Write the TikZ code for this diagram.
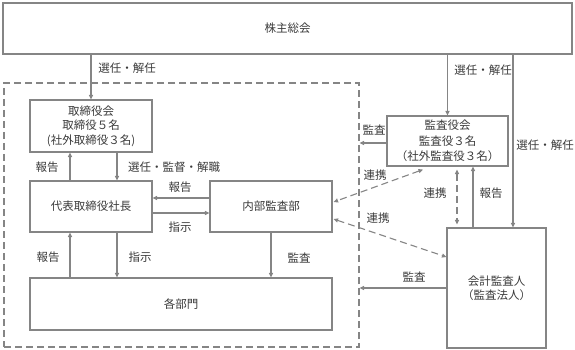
\documentclass[tikz,border=0pt]{standalone}
\usepackage{fontspec}
\setmainfont{Noto Sans CJK JP}
\usetikzlibrary{arrows.meta,calc}
\definecolor{ln}{HTML}{858585}
\definecolor{tx}{HTML}{3A3A3A}
\tikzset{
  box/.style={draw=ln, line width=1.1pt, inner sep=0pt, align=center, text=tx, font=\fontsize{11.5}{14.5}\selectfont},
  lbl/.style={inner sep=0pt, text=tx, font=\fontsize{11.5}{14}\selectfont},
  arr/.style={draw=ln, line width=1.1pt, -{Triangle[length=4.5pt,width=4pt]}},
  darr/.style={draw=ln, line width=1.1pt, dash pattern=on 7pt off 4pt, {Triangle[length=4.5pt,width=4pt]}-{Triangle[length=4.5pt,width=4pt]}},
}
\begin{document}
\begin{tikzpicture}[x=1pt,y=-1pt]
\useasboundingbox (0,0) rectangle (575,350);
% dashed region
\node[draw=ln, line width=1.1pt, dash pattern=on 7pt off 4pt, minimum width=355pt, minimum height=264pt, inner sep=0pt] (inner) at (181.5,215) {};
% boxes
\node[box, minimum width=569pt, minimum height=51pt] (sh) at (287.5,28.5) {株主総会};
\node[box, minimum width=122pt, minimum height=52pt] (bd) at (91,126) {取締役会\\取締役５名\\(社外取締役３名)};
\node[box, minimum width=122pt, minimum height=51pt] (ceo) at (91,206.5) {代表取締役社長};
\node[box, minimum width=122pt, minimum height=51pt] (ia) at (271,206.5) {内部監査部};
\node[box, minimum width=302pt, minimum height=52pt] (dept) at (181,304) {各部門};
\node[box, minimum width=121pt, minimum height=50pt, font=\fontsize{11.5}{15.5}\selectfont] (kan) at (447.5,141) {監査役会\\監査役３名\\（社外監査役３名）};
\node[box, minimum width=99pt, minimum height=120pt] (acc) at (496.5,288) {会計監査人\\（監査法人）};
% connectors
\draw[arr] (bd.north |- sh.south) -- (bd.north);
\draw[arr] (kan.north |- sh.south) -- (kan.north);
\draw[arr] ([xshift=16.5pt]acc.north |- sh.south) -- ([xshift=16.5pt]acc.north);
\draw[arr] ([xshift=-21pt]ceo.north) -- ([xshift=-21pt]bd.south);
\draw[arr] ([xshift=26pt]bd.south) -- ([xshift=26pt]ceo.north);
\draw[arr] ([yshift=8.5pt]ia.west) -- ([yshift=8.5pt]ia.west -| ceo.east);
\draw[arr] ([yshift=-6.5pt]ceo.east) -- ([yshift=-6.5pt]ceo.east -| ia.west);
\draw[arr] ([xshift=-21pt]ceo.south |- dept.north) -- ([xshift=-21pt]ceo.south);
\draw[arr] ([xshift=26pt]ceo.south) -- ([xshift=26pt]ceo.south |- dept.north);
\draw[arr] (ia.south) -- (ia.south |- dept.north);
\draw[arr] ([yshift=-2pt]kan.west) -- ([yshift=-2pt]kan.west -| inner.east);
\draw[arr] (acc.west) -- (acc.west -| inner.east);
\draw[darr] ([xshift=-24.5pt,yshift=-3pt]kan.south) -- ([yshift=4.5pt,xshift=1pt]ia.east);
\draw[darr] ([yshift=-12.5pt,xshift=1pt]ia.east) -- ([yshift=31pt]acc.west);
\draw[darr] ([xshift=9.5pt,yshift=-3pt]kan.south) -- ([xshift=9.5pt,yshift=3pt]kan.south |- acc.north);
\draw[arr] ([xshift=25.5pt]kan.south |- acc.north) -- ([xshift=25.5pt]kan.south);
% labels
\node[lbl] (l1) at (127,68) {選任・解任};
\node[lbl] (l2) at (483,70) {選任・解任};
\node[lbl] (l3) at (545,145) {選任・解任};
\node[lbl] (l4) at (47,167) {報告};
\node[lbl] (l5) at (174,167) {選任・監督・解職};
\node[lbl] (l6) at (180,187) {報告};
\node[lbl] (l7) at (180,227) {指示};
\node[lbl] (l8) at (48,257) {報告};
\node[lbl] (l9) at (140,257) {指示};
\node[lbl] (l10) at (299,258) {監査};
\node[lbl] (l11) at (374,130) {監査};
\node[lbl] (l12) at (375,175) {連携};
\node[lbl] (l13) at (378,218) {連携};
\node[lbl] (l14) at (435,193) {連携};
\node[lbl] (l15) at (491,193) {報告};
\node[lbl] (l16) at (414,277) {監査};
\end{tikzpicture}
\end{document}
